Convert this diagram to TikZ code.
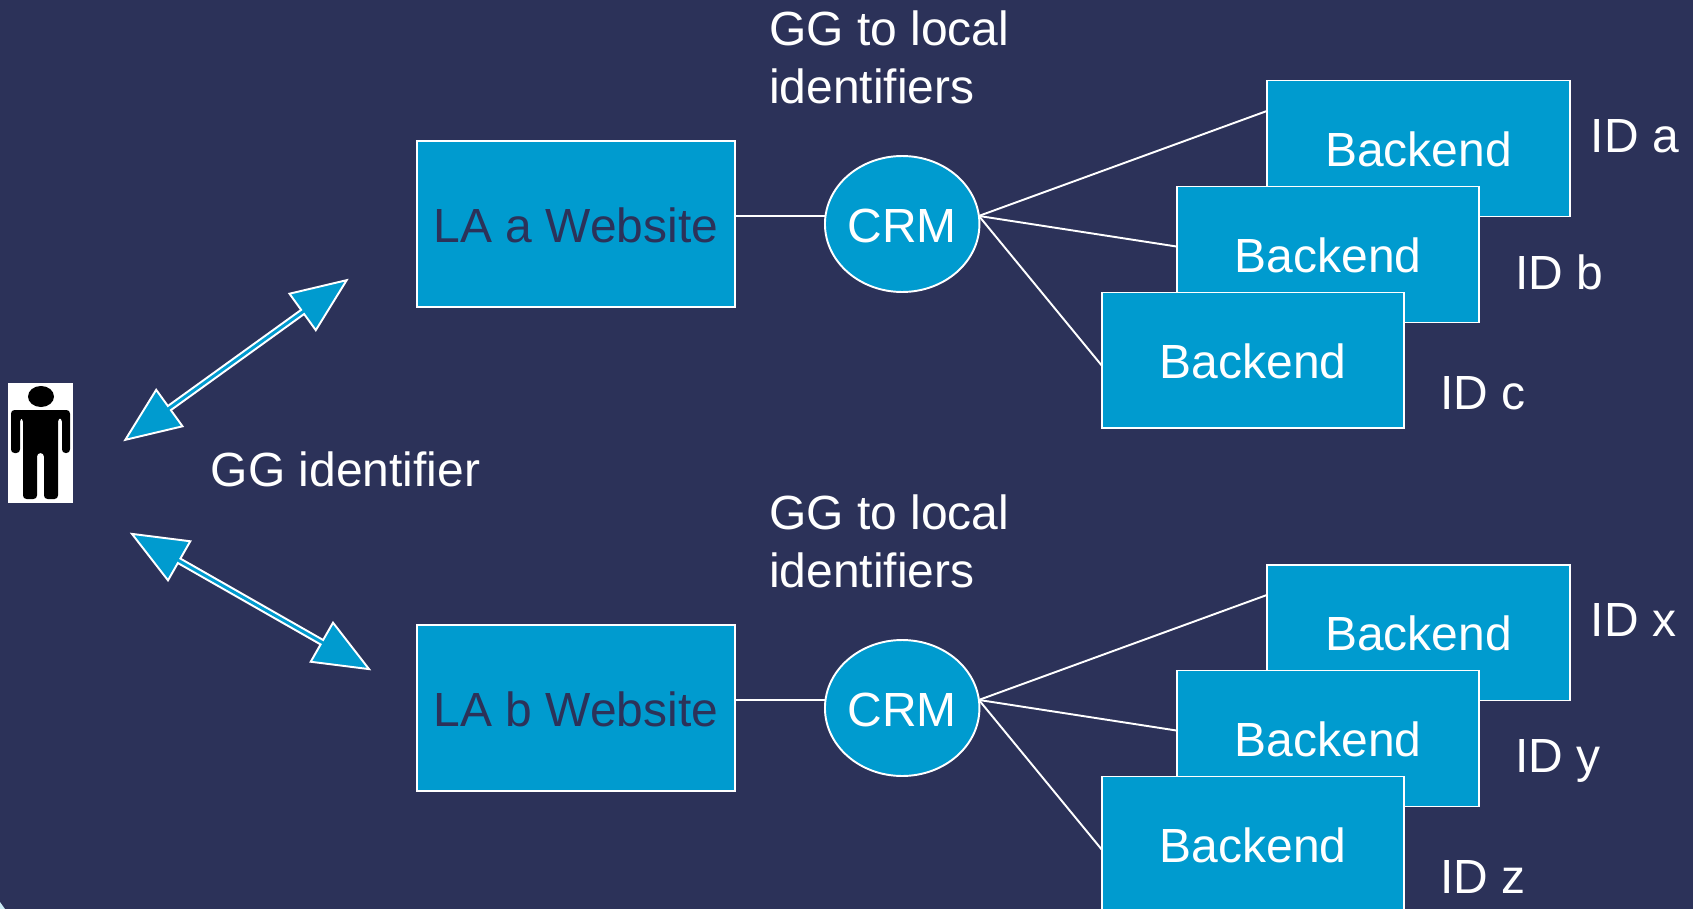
\documentclass[tikz,border=0pt]{standalone}
\usepackage{fontspec}
\setsansfont{Liberation Sans}
\usetikzlibrary{positioning}
\usetikzlibrary{shapes.geometric}
\usetikzlibrary{shapes.arrows}
\definecolor{navy}{RGB}{44,50,89}
\definecolor{cyanblue}{RGB}{0,155,207}

\begin{document}
\begin{tikzpicture}[x=0.02cm, y=-0.02cm, draw=white, line width=1.1pt, font=\sffamily\fontsize{27.3}{33}\selectfont]
    \tikzstyle{site}=[draw=white,rectangle,fill=cyanblue,text=navy,text height=21pt,minimum width=6.36cm,minimum height=3.32cm,inner sep=0pt,outer sep=0pt]
    \tikzstyle{crm}=[draw=white,ellipse,fill=cyanblue,text=white,text height=21pt,minimum width=3.0cm,minimum height=2.72cm,inner sep=0pt,outer sep=0pt]
    \tikzstyle{backend}=[draw=white,rectangle,fill=cyanblue,text=white,text height=21pt,minimum width=6.05cm,minimum height=2.72cm,inner sep=0pt,outer sep=0pt]
    \tikzstyle{label}=[text=white,inner sep=0pt,align=left]
    \tikzstyle{idlabel}=[text=white,inner sep=0pt,text depth=0pt]
    \tikzstyle{dblarrow}=[draw=white,double arrow,fill=cyanblue,minimum height=5.46cm,minimum width=0.9cm,double arrow head extend=0.15cm,double arrow tip angle=45,inner sep=0pt,outer sep=0pt]

    \useasboundingbox (0,0) rectangle (1693,909);
    \fill[navy] (0,0) rectangle (1693,909);
    \fill[white!80!cyanblue] (0,902) -- (5,909) -- (0,909) -- cycle;

    % person
    \node[rectangle,fill=white,minimum width=1.3cm,minimum height=2.4cm,inner sep=0pt] (user) at (40.5,443) {};
    \fill[black] (41,396.5) ellipse (13 and 10.5);
    \fill[black,rounded corners=2pt] (11,410) -- (70,410) -- (70,453) -- (62,453) -- (62,418) -- (58,418) -- (58,499) -- (44,499) -- (44,453) -- (37,453) -- (37,499) -- (23,499) -- (23,418) -- (20,418) -- (20,453) -- (11,453) -- cycle;

    \node[dblarrow, rotate=35.8] (linkA) at (236,360) {};
    \node[dblarrow, rotate=-29.7] (linkB) at (250.5,601.5) {};
    \node[label, anchor=west] (gg) at (210,469) {GG identifier};

    % upper group
    \node[site] (siteA) at (576,224) {LA a Website};
    \node[crm, right=1.8cm of siteA] (crmA) {CRM};
    \node[backend, right=5.76cm of crmA, yshift=1.51cm] (backA1) {Backend};
    \node[backend, xshift=-1.81cm, yshift=-2.12cm] (backA2) at (backA1) {Backend};
    \node[backend, xshift=-1.50cm, yshift=-2.12cm] (backA3) at (backA2) {Backend};

    \draw (crmA.174) -- (crmA.174 -| siteA.east);
    \draw (crmA.6) -- (backA1.166);
    \draw (crmA.6) -- (backA2.177.5);
    \draw (crmA.6) -- (backA3.182.9);

    \node[label, above=1.03cm of crmA, xshift=-0.26cm] (mapA) {GG to local\\identifiers};
    \node[idlabel, right=0.4cm of backA1, yshift=0.25cm] (idA1) {ID a};
    \node[idlabel, right=0.7cm of backA2, yshift=-0.35cm] (idA2) {ID b};
    \node[idlabel, right=0.7cm of backA3, yshift=-0.65cm] (idA3) {ID c};

    % lower group
    \node[site] (siteB) at (576,708) {LA b Website};
    \node[crm, right=1.8cm of siteB] (crmB) {CRM};
    \node[backend, right=5.76cm of crmB, yshift=1.51cm] (backB1) {Backend};
    \node[backend, xshift=-1.81cm, yshift=-2.12cm] (backB2) at (backB1) {Backend};
    \node[backend, xshift=-1.50cm, yshift=-2.12cm] (backB3) at (backB2) {Backend};

    \draw (crmB.174) -- (crmB.174 -| siteB.east);
    \draw (crmB.6) -- (backB1.166);
    \draw (crmB.6) -- (backB2.177.5);
    \draw (crmB.6) -- (backB3.182.9);

    \node[label, above=1.03cm of crmB, xshift=-0.26cm] (mapB) {GG to local\\identifiers};
    \node[idlabel, right=0.4cm of backB1, yshift=0.25cm] (idB1) {ID x};
    \node[idlabel, right=0.7cm of backB2, yshift=-0.35cm] (idB2) {ID y};
    \node[idlabel, right=0.7cm of backB3, yshift=-0.65cm] (idB3) {ID z};
\end{tikzpicture}
\end{document}
